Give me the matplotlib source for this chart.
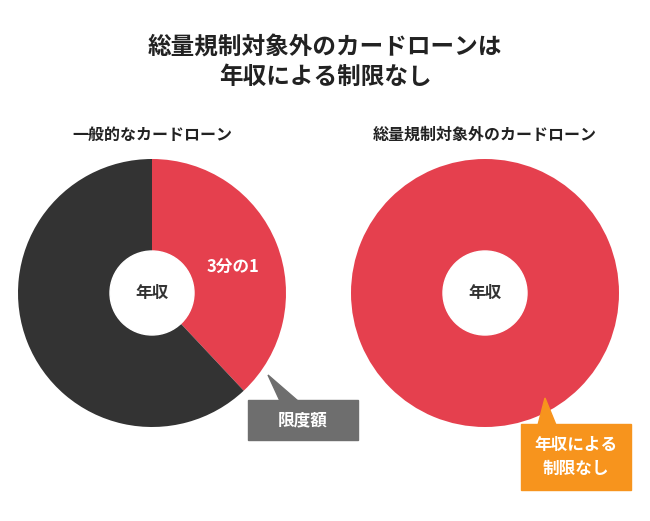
import matplotlib.pyplot as plt
from matplotlib.patches import Circle, Polygon, Rectangle

plt.rcParams['font.family'] = 'Noto Sans CJK JP'

title = "総量規制対象外のカードローンは\n年収による制限なし"
left_title = "一般的なカードローン"
right_title = "総量規制対象外のカードローン"
left_values = [38, 62]        # 限度額, rest
right_values = [100]
red = '#E5404E'
dark = '#333333'

fig = plt.figure(figsize=(6.5, 5.21), dpi=100)
ax = fig.add_axes([0, 0, 1, 1])

# y axis is flipped below, so start at -90 going counterclockwise (shows as top, clockwise)
ax.pie(left_values, colors=[red, dark], startangle=-90, counterclock=True,
       center=(152, 293), radius=134, wedgeprops=dict(linewidth=0))
ax.pie(right_values, colors=[red], startangle=90,
       center=(485, 293), radius=134, wedgeprops=dict(linewidth=0))
for cx in (152, 485):
    ax.add_patch(Circle((cx, 293), 42, color='white', zorder=3))
    ax.text(cx, 293, "年収", ha='center', va='center', fontsize=12, fontweight='bold', color='#333333', zorder=4)

ax.text(233, 268, "3分の1", ha='center', va='center', fontsize=12, fontweight='bold', color='white', zorder=4)

# gray callout
ax.add_patch(Polygon([(268, 375), (280, 401), (298, 401)], color='#6E6E6E', zorder=4))
ax.add_patch(Rectangle((248, 400), 110, 40, color='#6E6E6E', zorder=4))
ax.text(303, 420, "限度額", ha='center', va='center', fontsize=12, fontweight='bold', color='white', zorder=5)

# orange callout
ax.add_patch(Polygon([(545, 398), (538, 425), (556, 425)], color='#F7941D', zorder=4))
ax.add_patch(Rectangle((521, 424), 110, 66, color='#F7941D', zorder=4))
ax.text(576, 457, "年収による\n制限なし", ha='center', va='center', fontsize=12, fontweight='bold',
        color='white', linespacing=1.4, zorder=5)

ax.text(325, 62, title, ha='center', va='center', fontsize=17, fontweight='bold', color='#222222', linespacing=1.3)
ax.text(152, 135, left_title, ha='center', va='center', fontsize=11.5, fontweight='bold', color='#222222')
ax.text(485, 135, right_title, ha='center', va='center', fontsize=11.5, fontweight='bold', color='#222222')

ax.set_xlim(0, 650)
ax.set_ylim(521, 0)
ax.set_aspect('auto')
ax.axis('off')
fig.savefig('out.png', dpi=100, facecolor='white')
